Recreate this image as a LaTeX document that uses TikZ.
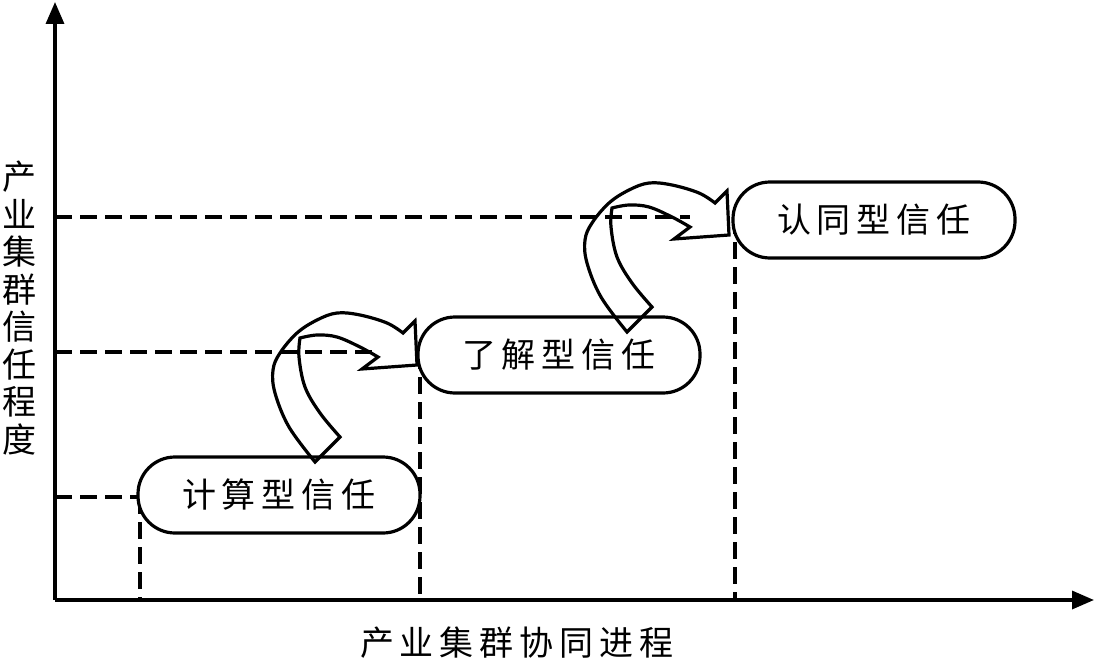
\documentclass[tikz,border=0pt]{standalone}
\usepackage{fontspec}
\newfontfamily\cjk{Noto Sans CJK SC}
\usetikzlibrary{arrows.meta}
\newcommand\gp{\hspace{6pt}}
\tikzset{
  axis/.style={line width=3.4pt,-{Triangle[length=22pt,width=18pt]}},
  guide/.style={line width=3.2pt,dash pattern=on 17pt off 8pt},
  stage/.style={draw,line width=3.2pt,fill=white,rounded corners=37pt,
    minimum width=282pt,minimum height=76pt,inner sep=0pt,
    font=\cjk\fontsize{34}{40}\selectfont},
  lbl/.style={font=\cjk\fontsize{34}{37.5}\selectfont,inner sep=0pt},
  ribbon/.style={draw,line width=3.2pt,line join=miter},
  pics/ribbonarrow/.style={code={
    \draw[ribbon] (-102,97)
      -- plot[smooth,tension=0.6] coordinates {(-102,97) (-128,62) (-142,28) (-144,5) (-137,-12) (-120,-32) (-100,-45) (-80,-52) (-57,-50) (-30,-42) (-14,-32)}
      -- (-2,-44) -- (0,0) -- (-55,4) -- (-39,-8)
      -- plot[smooth,tension=0.6] coordinates {(-39,-8) (-57,-18) (-80,-28) (-100,-30) (-117,-27)}
      -- plot[smooth,tension=0.6] coordinates {(-117,-27) (-118,-8) (-112,22) (-97,48) (-77,72)}
      -- cycle;
  }}
}
\begin{document}
\begin{tikzpicture}[x=1pt,y=-1pt]
\useasboundingbox (0,0) rectangle (1095,661);
% axes
\coordinate (O) at (55,600);
\coordinate (ytip) at (55,2);
\coordinate (xtip) at (1094,600);
\draw[axis] (O) -- (ytip);
\draw[axis] (O) -- (xtip);
% guide lines
\coordinate (h1) at (55,497);
\coordinate (h2) at (55,352);
\coordinate (h3) at (55,217);
\coordinate (h2e) at (378,352);
\coordinate (h3e) at (690,217);
\coordinate (v1t) at (140,497);
\coordinate (v1b) at (140,600);
\coordinate (v2t) at (420,352);
\coordinate (v2b) at (420,600);
\coordinate (v3t) at (735,217);
\coordinate (v3b) at (735,600);
\draw[guide] (h1) -- (v1t);
\draw[guide] (h2) -- (h2e);
\draw[guide] (h3) -- (h3e);
\draw[guide] (v1t) -- (v1b);
\draw[guide] (v2t) -- (v2b);
\draw[guide] (v3t) -- (v3b);
% stages
\node[stage] (s1) at (279,495) {计\gp 算\gp 型\gp 信\gp 任};
\node[stage] (s2) at (559,355) {了\gp 解\gp 型\gp 信\gp 任};
\node[stage] (s3) at (874,220) {认\gp 同\gp 型\gp 信\gp 任};
% ribbon arrows
\pic at (417,365) {ribbonarrow};
\pic at (729,235) {ribbonarrow};
% axis labels
\node[lbl,align=center] (ylab) at (19,308) {产\\业\\集\\群\\信\\任\\程\\度};
\node[lbl] (xlab) at (517,643) {产\gp 业\gp 集\gp 群\gp 协\gp 同\gp 进\gp 程};
\end{tikzpicture}
\end{document}
